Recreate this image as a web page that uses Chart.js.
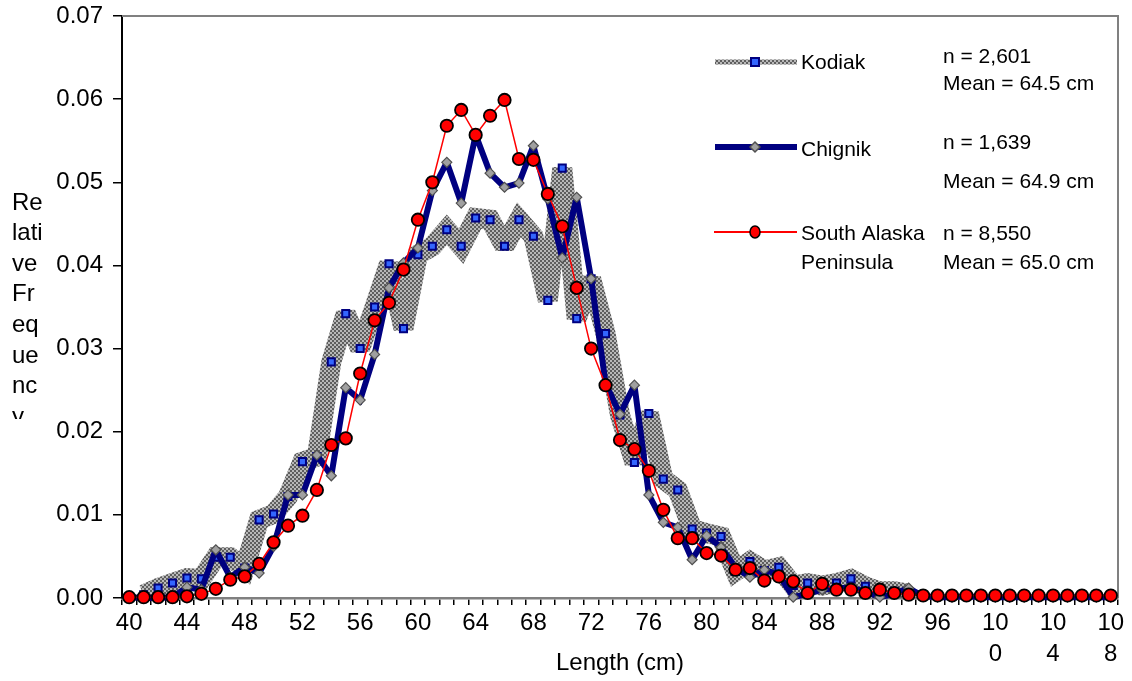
<!DOCTYPE html>
<html><head><meta charset="utf-8">
<script src="https://cdn.jsdelivr.net/npm/chart.js@4.4.1/dist/chart.umd.min.js"></script>
<style>html,body{margin:0;padding:0;background:#fff;}#wrap{width:1132px;height:681px;position:relative;}</style>
</head><body><div id="wrap"><canvas id="c" width="1132" height="681"></canvas></div>
<script>
const lengthsCm = [40,41,42,43,44,45,46,47,48,49,50,51,52,53,54,55,56,57,58,59,60,61,62,63,64,65,66,67,68,69,70,71,72,73,74,75,76,77,78,79,80,81,82,83,84,85,86,87,88,89,90,91,92,93,94,95,96,97,98,99,100,101,102,103,104,105,106,107,108];

const kodiak = [null,0.0004,0.0012,0.0018,0.0024,0.0023,0.0049,0.0049,0.0036,0.0094,
  0.0101,0.0122,0.0164,0.0170,0.0284,0.0342,0.0300,0.0350,0.0402,0.0324,
  0.0413,0.0423,0.0443,0.0423,0.0457,0.0455,0.0423,0.0455,0.0435,0.0358,
  0.0517,0.0336,0.0384,0.0318,0.0220,0.0163,0.0222,0.0143,0.0130,0.0083,
  0.0078,0.0074,0.0032,0.0044,0.0033,0.0037,0.0015,0.0018,0.0015,0.0018,
  0.0023,0.0014,0.0008,0.0008,0.0005,null,null,null,null,null,
  null,null,null,null,null,null,null,null,null];

const chignik = [0.0001,0.0000,0.0000,0.0001,0.0013,0.0010,0.0058,0.0025,0.0037,0.0030,
  0.0062,0.0124,0.0124,0.0172,0.0147,0.0253,0.0238,0.0293,0.0373,0.0403,
  0.0421,0.0490,0.0524,0.0475,0.0557,0.0511,0.0494,0.0499,0.0544,0.0480,
  0.0409,0.0482,0.0384,0.0258,0.0221,0.0256,0.0124,0.0091,0.0085,0.0046,
  0.0075,0.0061,0.0037,0.0025,0.0034,0.0028,0.0001,0.0005,0.0010,0.0012,
  0.0012,0.0008,0.0001,0.0005,0.0012,0.0002,0.0001,0.0001,0.0002,0.0001,
  0.0001,0.0001,0.0001,0.0001,0.0001,0.0001,0.0001,0.0001,0.0001];

const southAlaskaPen = [0.0001,0.0001,0.0001,0.0001,0.0002,0.0005,0.0011,0.0022,0.0026,0.0041,
  0.0067,0.0087,0.0099,0.0130,0.0184,0.0192,0.0270,0.0334,0.0355,0.0395,
  0.0455,0.0500,0.0568,0.0587,0.0557,0.0580,0.0599,0.0528,0.0527,0.0486,
  0.0447,0.0373,0.0300,0.0256,0.0190,0.0179,0.0153,0.0106,0.0072,0.0072,
  0.0054,0.0051,0.0034,0.0036,0.0021,0.0026,0.0020,0.0006,0.0017,0.0010,
  0.0010,0.0006,0.0010,0.0006,0.0004,0.0003,0.0003,0.0003,0.0003,0.0003,
  0.0003,0.0003,0.0003,0.0003,0.0003,0.0003,0.0003,0.0003,0.0003];

const yTicks = [0,0.01,0.02,0.03,0.04,0.05,0.06,0.07];
const yTitleLines = ['Re','lati','ve','Fr','eq','ue','nc','y'];
const xTitle = 'Length (cm)';
const legendItems = [
  {name:['Kodiak'], stats:['n = 2,601','Mean = 64.5 cm']},
  {name:['Chignik'], stats:['n = 1,639','Mean = 64.9 cm']},
  {name:['South Alaska','Peninsula'], stats:['n = 8,550','Mean = 65.0 cm']}
];

const FONT = "'Liberation Sans', Arial, sans-serif";
const canvas = document.getElementById('c');
const mainCtx = canvas.getContext('2d');

function makeChecker(){
  const c = document.createElement('canvas'); c.width = 4; c.height = 4;
  const g = c.getContext('2d');
  g.fillStyle = '#b8b8b8'; g.fillRect(0,0,4,4);
  g.fillStyle = '#5e5e5e'; g.fillRect(0,0,2,2); g.fillRect(2,2,2,2);
  return mainCtx.createPattern(c,'repeat');
}
const checker = makeChecker();

const decor = {
  id:'decor',
  beforeDatasetsDraw(chart){
    const {ctx, chartArea:a} = chart;
    ctx.save();
    ctx.strokeStyle = '#808080'; ctx.lineWidth = 2;
    ctx.beginPath(); ctx.moveTo(a.left, a.top); ctx.lineTo(a.right, a.top); ctx.lineTo(a.right, a.bottom); ctx.stroke();
    ctx.restore();
    ctx.save();
    ctx.miterLimit = 2;
  },
  afterDatasetsDraw(chart){ chart.ctx.restore(); },
  afterDraw(chart){
    const ctx = chart.ctx;
    const a = chart.chartArea;
    ctx.save();
    ctx.save();
    ctx.beginPath(); ctx.rect(0, 0, 60, 419); ctx.clip();
    ctx.fillStyle = '#000'; ctx.font = '24px ' + FONT; ctx.textAlign = 'left'; ctx.textBaseline = 'middle';
    yTitleLines.forEach((t,i)=>ctx.fillText(t, 12, 203 + i*30.6));
    ctx.restore();
    ctx.fillStyle = '#000'; ctx.font = '24px ' + FONT; ctx.textAlign = 'center'; ctx.textBaseline = 'middle';
    ctx.fillText(xTitle, (a.left + a.right)/2, 663);
    const rows = [62, 147, 232];
    const x0 = 715, x1 = 797, mx = 755;
    ctx.strokeStyle = checker; ctx.lineWidth = 5;
    ctx.beginPath(); ctx.moveTo(x0, rows[0]); ctx.lineTo(x1, rows[0]); ctx.stroke();
    ctx.fillStyle = '#3366ff'; ctx.strokeStyle = '#000080'; ctx.lineWidth = 2;
    ctx.fillRect(mx-4, rows[0]-4, 8, 8); ctx.strokeRect(mx-4, rows[0]-4, 8, 8);
    ctx.strokeStyle = '#000080'; ctx.lineWidth = 6;
    ctx.beginPath(); ctx.moveTo(x0, rows[1]); ctx.lineTo(x1, rows[1]); ctx.stroke();
    ctx.fillStyle = '#a0a0a0'; ctx.strokeStyle = '#505050'; ctx.lineWidth = 1.5;
    ctx.beginPath(); ctx.moveTo(mx, rows[1]-5); ctx.lineTo(mx+5, rows[1]); ctx.lineTo(mx, rows[1]+5); ctx.lineTo(mx-5, rows[1]); ctx.closePath(); ctx.fill(); ctx.stroke();
    ctx.strokeStyle = '#ff0000'; ctx.lineWidth = 2;
    ctx.beginPath(); ctx.moveTo(x0-1, rows[2]); ctx.lineTo(x1, rows[2]); ctx.stroke();
    ctx.fillStyle = '#ff0000'; ctx.strokeStyle = '#000'; ctx.lineWidth = 1.5;
    ctx.beginPath(); ctx.ellipse(mx, rows[2], 5, 6, 0, 0, Math.PI*2); ctx.fill(); ctx.stroke();
    ctx.fillStyle = '#000'; ctx.font = '21px ' + FONT; ctx.textAlign = 'left'; ctx.textBaseline = 'middle';
    ctx.fillText(legendItems[0].name[0], 801, 63);
    ctx.fillText(legendItems[0].stats[0], 943, 57);
    ctx.fillText(legendItems[0].stats[1], 943, 84);
    ctx.fillText(legendItems[1].name[0], 801, 150);
    ctx.fillText(legendItems[1].stats[0], 943, 143);
    ctx.fillText(legendItems[1].stats[1], 943, 182);
    ctx.fillText(legendItems[2].name[0], 801, 234);
    ctx.fillText(legendItems[2].name[1], 801, 263);
    ctx.fillText(legendItems[2].stats[0], 943, 234);
    ctx.fillText(legendItems[2].stats[1], 943, 263);
    ctx.restore();
  }
};

new Chart(canvas, {
  type:'line',
  data:{
    labels: lengthsCm.map(String),
    datasets:[
      {label:'South Alaska Peninsula', data:southAlaskaPen, borderColor:'#ff0000', borderWidth:1.5,
       pointStyle:'circle', pointRadius:6.2, pointBackgroundColor:'#ff0000', pointBorderColor:'#000', pointBorderWidth:1.8,
       tension:0, clip:false},
      {label:'Chignik', data:chignik, borderColor:'#000080', borderWidth:6,
       pointStyle:'rectRot', pointRadius:5, pointBackgroundColor:'#a0a0a0', pointBorderColor:'#505050', pointBorderWidth:1.2,
       tension:0, clip:false},
      {label:'Kodiak', data:kodiak, borderColor:checker, borderWidth:20, borderJoinStyle:'miter', borderCapStyle:'butt',
       pointStyle:'rect', pointRadius:5, pointBackgroundColor:'#3366ff', pointBorderColor:'#000080', pointBorderWidth:2,
       tension:0, spanGaps:false, clip:0}
    ]
  },
  options:{
    responsive:false, animation:false, devicePixelRatio:1,
    layout:{padding:{left:0, right:14, top:16, bottom:0}},
    plugins:{legend:{display:false}, tooltip:{enabled:false}},
    scales:{
      x:{
        type:'category', offset:true,
        afterFit(s){ s.height = 83; s.paddingLeft = 0; s.paddingRight = 0; },
        grid:{offset:true, drawOnChartArea:false, drawTicks:true, tickLength:7, tickColor:'#000', lineWidth:1.5},
        border:{display:true, color:'#808080', width:2.5},
        ticks:{autoSkip:false, maxRotation:0, minRotation:0, padding:3, color:'#000',
          font:{family:FONT, size:24, lineHeight:1.3},
          callback(v, i){
            const c = lengthsCm[i];
            if ((c - 40) % 4 !== 0) return '';
            const s = String(c);
            return s.length > 2 ? [s.slice(0,2), s.slice(2)] : s;
          }}
      },
      y:{
        min:0, max:0.07,
        afterFit(s){ s.width = 122; s.paddingTop = 0; s.paddingBottom = 0; },
        afterBuildTicks(s){ s.ticks = yTicks.map(v=>({value:v})); },
        grid:{drawOnChartArea:false, drawTicks:true, tickLength:9, tickColor:'#000', lineWidth:1.5},
        border:{display:true, color:'#000', width:2},
        ticks:{padding:10, color:'#000', font:{family:FONT, size:24}, callback:v=>Number(v).toFixed(2)}
      }
    }
  },
  plugins:[decor]
});
</script></body></html>
